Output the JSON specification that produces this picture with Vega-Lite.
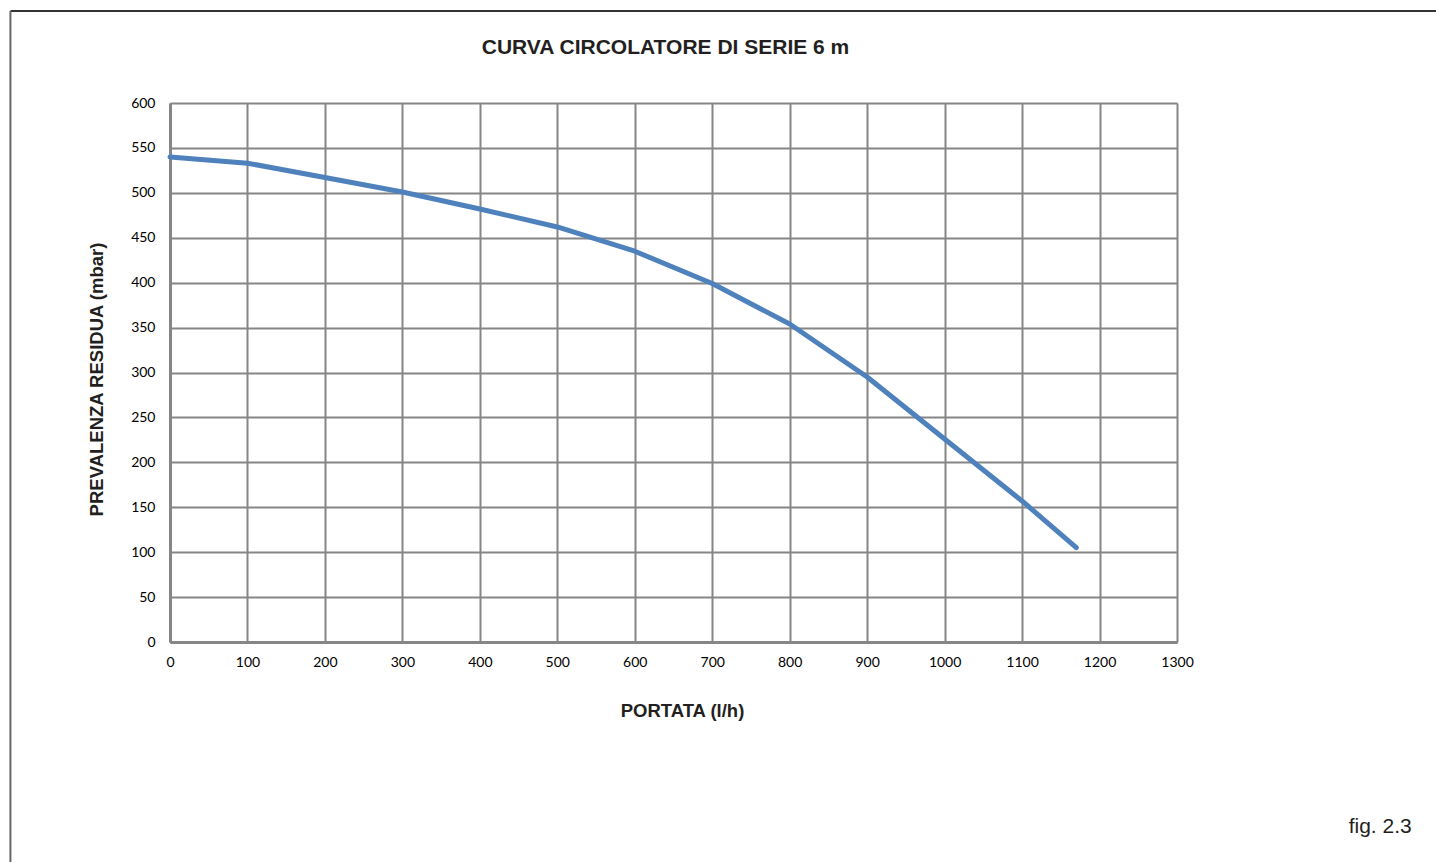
{
  "$schema": "https://vega.github.io/schema/vega-lite/v6.json",
  "width": 1007,
  "height": 539,
  "autosize": {"type": "none"},
  "padding": {"left": 170, "top": 103, "right": 259, "bottom": 220},
  "background": "white",
  "title": {
    "text": "CURVA CIRCOLATORE DI SERIE 6 m",
    "font": "Liberation Sans",
    "fontSize": 21,
    "fontWeight": "bold",
    "color": "#231f20",
    "anchor": "middle",
    "frame": "group",
    "dx": -8,
    "offset": -48
  },
  "config": {
    "view": {"stroke": null},
    "axis": {
      "labelFont": "Lato",
      "labelFontSize": 14,
      "labelColor": "#000000",
      "titleFont": "Liberation Sans",
      "titleFontSize": 18.5,
      "titleFontWeight": "bold",
      "titleColor": "#231f20",
      "gridColor": "#868686",
      "gridWidth": 2,
      "gridOpacity": 1,
      "domainColor": "#868686",
      "domainWidth": 3,
      "ticks": false
    }
  },
  "layer": [
    {
      "data": {
        "values": [
          {"portata": 0, "prevalenza": 540},
          {"portata": 100, "prevalenza": 533},
          {"portata": 200, "prevalenza": 517},
          {"portata": 300, "prevalenza": 501},
          {"portata": 400, "prevalenza": 482},
          {"portata": 500, "prevalenza": 462},
          {"portata": 600, "prevalenza": 435},
          {"portata": 700, "prevalenza": 399},
          {"portata": 800, "prevalenza": 354},
          {"portata": 900, "prevalenza": 295},
          {"portata": 1000, "prevalenza": 226},
          {"portata": 1100, "prevalenza": 157},
          {"portata": 1170, "prevalenza": 105}
        ]
      },
      "mark": {"type": "line", "color": "#4f81bd", "strokeWidth": 5, "strokeCap": "round", "strokeJoin": "round", "clip": false},
      "encoding": {
        "x": {
          "field": "portata",
          "type": "quantitative",
          "scale": {"domain": [0, 1300], "nice": false},
          "axis": {
            "title": "PORTATA (l/h)",
            "format": "d",
            "values": [0, 100, 200, 300, 400, 500, 600, 700, 800, 900, 1000, 1100, 1200, 1300],
            "labelPadding": 13,
            "titlePadding": 32,
            "titleX": 512,
            "labelFlush": false,
            "labelOverlap": false
          }
        },
        "y": {
          "field": "prevalenza",
          "type": "quantitative",
          "scale": {"domain": [0, 600], "nice": false},
          "axis": {
            "title": "PREVALENZA RESIDUA (mbar)",
            "format": "d",
            "values": [0, 50, 100, 150, 200, 250, 300, 350, 400, 450, 500, 550, 600],
            "labelPadding": 15,
            "titlePadding": 24,
            "titleY": 276,
            "labelFlush": false,
            "labelOverlap": false
          }
        }
      }
    },
    {
      "data": {"values": [{"label": "fig. 2.3"}]},
      "mark": {"type": "text", "align": "right", "baseline": "middle", "font": "Liberation Sans", "fontSize": 21, "color": "#231f20", "clip": false},
      "encoding": {
        "x": {"datum": 1603},
        "y": {"datum": -206},
        "text": {"field": "label"}
      }
    },
    {
      "data": {"values": [{"frame": "top"}]},
      "mark": {"type": "rule", "color": "#333333", "strokeWidth": 2, "clip": false},
      "encoding": {
        "x": {"datum": -206},
        "x2": {"datum": 1640},
        "y": {"datum": 702.5}
      }
    },
    {
      "data": {"values": [{"frame": "left"}]},
      "mark": {"type": "rule", "color": "#666666", "strokeWidth": 2, "clip": false},
      "encoding": {
        "x": {"datum": -206},
        "y": {"datum": 702.5},
        "y2": {"datum": -250}
      }
    }
  ]
}
